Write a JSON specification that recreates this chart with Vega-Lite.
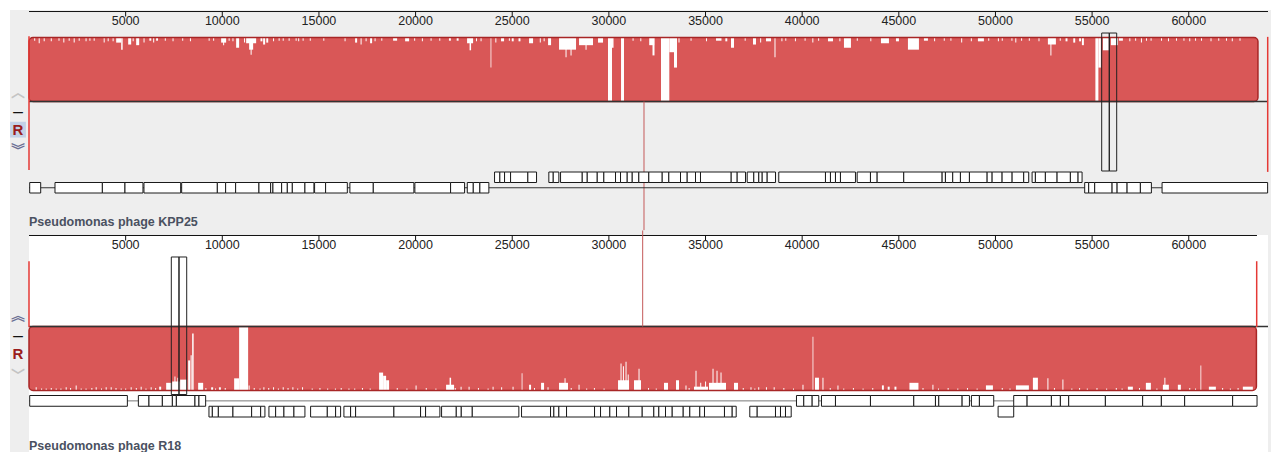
{
"$schema":"https://vega.github.io/schema/vega-lite/v6.json",
"padding":0,
"background":"#eeeeee",
"spacing":5,
"bounds":"flush",
"config":{"view":{"stroke":null}},
"datasets":{
"ticks":[{"bp":5000},{"bp":10000},{"bp":15000},{"bp":20000},{"bp":25000},{"bp":30000},{"bp":35000},{"bp":40000},{"bp":45000},{"bp":50000},{"bp":55000},{"bp":60000}],
"genes1":[
{"start":36,"end":605,"strand":"-"},{"start":1345,"end":3796,"strand":"-"},{"start":3796,"end":4965,"strand":"-"},{"start":4965,"end":5896,"strand":"-"},{"start":5948,"end":7846,"strand":"-"},{"start":7898,"end":9744,"strand":"-"},{"start":9744,"end":10173,"strand":"-"},{"start":10173,"end":10690,"strand":"-"},{"start":10690,"end":11896,"strand":"-"},{"start":11896,"end":12501,"strand":"-"},{"start":12501,"end":12620,"strand":"-"},{"start":12620,"end":13070,"strand":"-"},{"start":13070,"end":13364,"strand":"-"},{"start":13364,"end":13623,"strand":"-"},{"start":13623,"end":14275,"strand":"-"},{"start":14275,"end":14740,"strand":"-"},{"start":14776,"end":15345,"strand":"-"},{"start":15345,"end":16468,"strand":"-"},{"start":16602,"end":17812,"strand":"-"},{"start":17812,"end":19912,"strand":"-"},{"start":19964,"end":21811,"strand":"-"},{"start":21811,"end":22535,"strand":"-"},{"start":22674,"end":22985,"strand":"-"},{"start":22985,"end":23326,"strand":"-"},{"start":23326,"end":23791,"strand":"-"},{"start":54617,"end":54824,"strand":"-"},{"start":54824,"end":55134,"strand":"-"},{"start":55134,"end":56034,"strand":"-"},{"start":56034,"end":56293,"strand":"-"},{"start":56293,"end":56810,"strand":"-"},{"start":56810,"end":57498,"strand":"-"},{"start":57498,"end":58067,"strand":"-"},{"start":58620,"end":64080,"strand":"-"},
{"start":24086,"end":24360,"strand":"+"},{"start":24360,"end":24603,"strand":"+"},{"start":24603,"end":24914,"strand":"+"},{"start":24914,"end":25808,"strand":"+"},{"start":25808,"end":26258,"strand":"+"},{"start":26894,"end":27122,"strand":"+"},{"start":27122,"end":27412,"strand":"+"},{"start":27500,"end":28622,"strand":"+"},{"start":28622,"end":28881,"strand":"+"},{"start":28881,"end":29398,"strand":"+"},{"start":29398,"end":29739,"strand":"+"},{"start":29739,"end":30344,"strand":"+"},{"start":30344,"end":30603,"strand":"+"},{"start":30603,"end":30949,"strand":"+"},{"start":30949,"end":31208,"strand":"+"},{"start":31208,"end":31549,"strand":"+"},{"start":31549,"end":32066,"strand":"+"},{"start":32066,"end":32759,"strand":"+"},{"start":32759,"end":33101,"strand":"+"},{"start":33101,"end":33706,"strand":"+"},{"start":33706,"end":34052,"strand":"+"},{"start":34052,"end":34482,"strand":"+"},{"start":34482,"end":34740,"strand":"+"},{"start":34740,"end":36328,"strand":"+"},{"start":36328,"end":36638,"strand":"+"},{"start":36638,"end":37068,"strand":"+"},{"start":37156,"end":37497,"strand":"+"},{"start":37497,"end":37756,"strand":"+"},{"start":37756,"end":37932,"strand":"+"},{"start":37932,"end":38190,"strand":"+"},{"start":38190,"end":38620,"strand":"+"},{"start":38790,"end":41206,"strand":"+"},{"start":41206,"end":41464,"strand":"+"},{"start":41464,"end":41723,"strand":"+"},{"start":41723,"end":41981,"strand":"+"},{"start":41981,"end":42757,"strand":"+"},{"start":42845,"end":43533,"strand":"+"},{"start":43533,"end":43879,"strand":"+"},{"start":43879,"end":45255,"strand":"+"},{"start":45255,"end":47241,"strand":"+"},{"start":47241,"end":47412,"strand":"+"},{"start":47412,"end":47789,"strand":"+"},{"start":47789,"end":48188,"strand":"+"},{"start":48188,"end":48653,"strand":"+"},{"start":48653,"end":49569,"strand":"+"},{"start":49569,"end":49827,"strand":"+"},{"start":49827,"end":50344,"strand":"+"},{"start":50344,"end":50862,"strand":"+"},{"start":50862,"end":51462,"strand":"+"},{"start":51462,"end":51720,"strand":"+"},{"start":51896,"end":52066,"strand":"+"},{"start":52066,"end":52583,"strand":"+"},{"start":52583,"end":53188,"strand":"+"},{"start":53188,"end":53876,"strand":"+"},{"start":53876,"end":54274,"strand":"+"},{"start":54274,"end":54481,"strand":"+"}
],
"genes2":[
{"start":36,"end":5089,"strand":"+"},{"start":5658,"end":6206,"strand":"+"},{"start":6206,"end":6899,"strand":"+"},{"start":6899,"end":7417,"strand":"+"},{"start":7417,"end":7624,"strand":"+"},{"start":7624,"end":8586,"strand":"+"},{"start":8586,"end":8792,"strand":"+"},{"start":8792,"end":9139,"strand":"+"},{"start":39706,"end":40083,"strand":"+"},{"start":40083,"end":40517,"strand":"+"},{"start":40517,"end":40859,"strand":"+"},{"start":40999,"end":41723,"strand":"+"},{"start":41723,"end":43533,"strand":"+"},{"start":43533,"end":45774,"strand":"+"},{"start":45774,"end":46896,"strand":"+"},{"start":46896,"end":47067,"strand":"+"},{"start":47067,"end":48275,"strand":"+"},{"start":48275,"end":48653,"strand":"+"},{"start":48756,"end":49170,"strand":"+"},{"start":49170,"end":49910,"strand":"+"},{"start":50944,"end":51637,"strand":"+"},{"start":51637,"end":52894,"strand":"+"},{"start":52894,"end":53359,"strand":"+"},{"start":53359,"end":53789,"strand":"+"},{"start":53789,"end":55687,"strand":"+"},{"start":55687,"end":57616,"strand":"+"},{"start":57616,"end":58583,"strand":"+"},{"start":58583,"end":59788,"strand":"+"},{"start":59788,"end":62271,"strand":"+"},{"start":62271,"end":63533,"strand":"+"},
{"start":9310,"end":9485,"strand":"-"},{"start":9485,"end":9796,"strand":"-"},{"start":9796,"end":10551,"strand":"-"},{"start":10551,"end":11518,"strand":"-"},{"start":11518,"end":11984,"strand":"-"},{"start":11984,"end":12206,"strand":"-"},{"start":12413,"end":12760,"strand":"-"},{"start":12760,"end":13189,"strand":"-"},{"start":13189,"end":13706,"strand":"-"},{"start":13706,"end":14275,"strand":"-"},{"start":14569,"end":15433,"strand":"-"},{"start":15433,"end":15862,"strand":"-"},{"start":15862,"end":16121,"strand":"-"},{"start":16292,"end":16638,"strand":"-"},{"start":16638,"end":16897,"strand":"-"},{"start":16897,"end":18878,"strand":"-"},{"start":18878,"end":20258,"strand":"-"},{"start":20258,"end":20517,"strand":"-"},{"start":20517,"end":21257,"strand":"-"},{"start":21345,"end":22105,"strand":"-"},{"start":22105,"end":22364,"strand":"-"},{"start":22364,"end":22933,"strand":"-"},{"start":22933,"end":25343,"strand":"-"},{"start":25482,"end":26982,"strand":"-"},{"start":26982,"end":27153,"strand":"-"},{"start":27153,"end":27412,"strand":"-"},{"start":27412,"end":27810,"strand":"-"},{"start":27810,"end":29258,"strand":"-"},{"start":29258,"end":29569,"strand":"-"},{"start":29569,"end":30049,"strand":"-"},{"start":30049,"end":30396,"strand":"-"},{"start":30396,"end":31032,"strand":"-"},{"start":31032,"end":31725,"strand":"-"},{"start":31725,"end":32325,"strand":"-"},{"start":32325,"end":32584,"strand":"-"},{"start":32584,"end":32930,"strand":"-"},{"start":32930,"end":33277,"strand":"-"},{"start":33277,"end":33846,"strand":"-"},{"start":33846,"end":34187,"strand":"-"},{"start":34187,"end":34704,"strand":"-"},{"start":34704,"end":34947,"strand":"-"},{"start":34947,"end":35981,"strand":"-"},{"start":35981,"end":36380,"strand":"-"},{"start":36380,"end":36587,"strand":"-"},{"start":37290,"end":37673,"strand":"-"},{"start":37673,"end":38620,"strand":"-"},{"start":38620,"end":38879,"strand":"-"},{"start":38879,"end":39137,"strand":"-"},{"start":39137,"end":39432,"strand":"-"},{"start":50137,"end":50944,"strand":"-"}
],
"spikes1":[
{"start":243,"end":295,"div":5},{"start":476,"end":528,"div":9},{"start":734,"end":786,"div":6},{"start":1100,"end":1152,"div":6},{"start":1500,"end":1552,"div":5},{"start":1750,"end":1802,"div":8},{"start":2027,"end":2079,"div":5},{"start":2286,"end":2338,"div":8},{"start":2545,"end":2597,"div":5},{"start":2900,"end":2952,"div":6},{"start":3100,"end":3152,"div":5},{"start":3320,"end":3372,"div":5},{"start":3838,"end":3889,"div":8},{"start":4045,"end":4096,"div":6},{"start":4300,"end":4352,"div":6},{"start":4484,"end":4743,"div":8},{"start":4743,"end":4820,"div":19},{"start":5105,"end":5260,"div":11},{"start":5337,"end":5389,"div":6},{"start":5518,"end":5674,"div":12},{"start":5900,"end":5952,"div":8},{"start":6200,"end":6300,"div":5},{"start":6398,"end":6450,"div":8},{"start":6550,"end":6650,"div":5},{"start":7000,"end":7052,"div":5},{"start":7400,"end":7452,"div":6},{"start":7900,"end":7952,"div":5},{"start":8300,"end":8352,"div":6},{"start":9268,"end":9320,"div":5},{"start":9500,"end":9552,"div":5},{"start":9915,"end":10173,"div":8},{"start":10018,"end":10070,"div":12},{"start":10302,"end":10354,"div":5},{"start":10500,"end":10552,"div":6},{"start":10690,"end":10845,"div":16},{"start":11100,"end":11152,"div":8},{"start":11208,"end":11725,"div":9},{"start":11363,"end":11570,"div":19},{"start":11440,"end":11492,"div":27},{"start":11950,"end":12050,"div":6},{"start":12087,"end":12191,"div":11},{"start":12250,"end":12350,"div":8},{"start":12600,"end":12652,"div":6},{"start":12889,"end":12941,"div":5},{"start":13100,"end":13152,"div":5},{"start":13406,"end":13458,"div":5},{"start":13768,"end":13820,"div":5},{"start":13900,"end":13952,"div":6},{"start":14130,"end":14182,"div":5},{"start":14500,"end":14552,"div":5},{"start":15200,"end":15252,"div":5},{"start":16300,"end":16352,"div":6},{"start":16845,"end":16949,"div":8},{"start":17129,"end":17181,"div":11},{"start":17388,"end":17440,"div":6},{"start":17621,"end":17724,"div":9},{"start":17853,"end":17905,"div":6},{"start":18200,"end":18252,"div":5},{"start":18811,"end":19018,"div":5},{"start":19432,"end":19639,"div":6},{"start":19900,"end":19952,"div":5},{"start":20300,"end":20352,"div":6},{"start":20750,"end":20802,"div":5},{"start":21200,"end":21252,"div":5},{"start":21700,"end":21800,"div":5},{"start":22100,"end":22200,"div":5},{"start":22638,"end":22949,"div":9},{"start":22767,"end":22845,"div":20},{"start":23100,"end":23152,"div":6},{"start":23336,"end":23388,"div":6},{"start":23853,"end":23894,"div":47},{"start":24100,"end":24152,"div":8},{"start":24396,"end":24551,"div":6},{"start":24800,"end":24852,"div":5},{"start":24950,"end":25050,"div":6},{"start":25300,"end":25400,"div":6},{"start":25845,"end":26052,"div":9},{"start":26400,"end":26452,"div":8},{"start":26600,"end":26652,"div":6},{"start":26828,"end":26983,"div":12},{"start":27396,"end":28275,"div":19},{"start":27732,"end":27784,"div":31},{"start":27991,"end":28043,"div":28},{"start":28430,"end":29154,"div":12},{"start":28767,"end":28819,"div":19},{"start":29000,"end":29052,"div":6},{"start":29413,"end":29672,"div":8},{"start":29930,"end":30137,"div":100},{"start":30137,"end":30215,"div":16},{"start":30603,"end":30758,"div":100},{"start":31200,"end":31252,"div":5},{"start":31600,"end":31652,"div":6},{"start":32061,"end":32320,"div":12},{"start":32231,"end":32335,"div":28},{"start":32672,"end":33101,"div":100},{"start":33101,"end":33344,"div":23},{"start":33344,"end":33499,"div":47},{"start":33576,"end":33628,"div":8},{"start":34200,"end":34252,"div":5},{"start":35000,"end":35052,"div":6},{"start":35517,"end":35800,"div":5},{"start":36000,"end":36100,"div":6},{"start":36293,"end":36448,"div":16},{"start":37000,"end":37052,"div":5},{"start":37430,"end":37585,"div":11},{"start":37800,"end":37852,"div":8},{"start":38103,"end":38362,"div":6},{"start":38542,"end":38594,"div":31},{"start":38900,"end":38952,"div":6},{"start":39100,"end":39152,"div":5},{"start":39600,"end":39652,"div":6},{"start":40100,"end":40152,"div":5},{"start":40500,"end":40552,"div":8},{"start":40800,"end":40852,"div":5},{"start":41309,"end":41568,"div":6},{"start":41900,"end":41952,"div":6},{"start":42136,"end":42498,"div":16},{"start":42800,"end":42852,"div":5},{"start":43500,"end":43552,"div":6},{"start":44050,"end":44464,"div":9},{"start":44826,"end":44981,"div":6},{"start":45446,"end":46015,"div":19},{"start":46274,"end":46481,"div":5},{"start":46800,"end":46852,"div":6},{"start":47300,"end":47352,"div":5},{"start":47644,"end":47696,"div":5},{"start":48200,"end":48252,"div":8},{"start":48700,"end":48752,"div":6},{"start":49067,"end":49377,"div":6},{"start":49600,"end":49652,"div":5},{"start":50100,"end":50152,"div":6},{"start":50300,"end":50352,"div":5},{"start":50800,"end":50852,"div":5},{"start":51000,"end":51052,"div":8},{"start":51300,"end":51352,"div":5},{"start":51700,"end":51752,"div":5},{"start":52200,"end":52252,"div":6},{"start":52687,"end":53101,"div":11},{"start":52817,"end":52868,"div":28},{"start":53300,"end":53352,"div":5},{"start":53600,"end":53700,"div":6},{"start":54000,"end":54100,"div":8},{"start":54300,"end":54400,"div":6},{"start":54446,"end":54549,"div":12},{"start":55144,"end":55299,"div":100},{"start":55299,"end":55428,"div":47},{"start":55532,"end":55842,"div":20},{"start":55946,"end":56308,"div":12},{"start":56360,"end":56567,"div":5},{"start":56900,"end":56952,"div":6},{"start":57200,"end":57252,"div":5},{"start":57500,"end":57552,"div":8},{"start":57762,"end":57814,"div":5},{"start":58000,"end":58052,"div":5},{"start":58538,"end":58590,"div":5},{"start":58900,"end":58952,"div":6},{"start":59314,"end":59366,"div":5},{"start":59700,"end":59752,"div":5},{"start":60000,"end":60052,"div":6},{"start":60300,"end":60352,"div":5},{"start":60607,"end":60659,"div":5},{"start":61100,"end":61152,"div":6},{"start":61500,"end":61552,"div":5},{"start":61900,"end":61952,"div":5},{"start":62200,"end":62252,"div":6},{"start":62600,"end":62652,"div":5}
],
"spikes2":[
{"start":320,"end":372,"div":5},{"start":600,"end":652,"div":3},{"start":838,"end":890,"div":3},{"start":1100,"end":1152,"div":4},{"start":1355,"end":1407,"div":3},{"start":1600,"end":1652,"div":3},{"start":1872,"end":1924,"div":5},{"start":2100,"end":2152,"div":4},{"start":2389,"end":2441,"div":8},{"start":2648,"end":2700,"div":3},{"start":2900,"end":2952,"div":3},{"start":3200,"end":3252,"div":4},{"start":3424,"end":3476,"div":5},{"start":3700,"end":3752,"div":3},{"start":3941,"end":3993,"div":5},{"start":4200,"end":4252,"div":5},{"start":4450,"end":4502,"div":4},{"start":4717,"end":4769,"div":3},{"start":4950,"end":5002,"div":3},{"start":5234,"end":5286,"div":5},{"start":5500,"end":5552,"div":4},{"start":5751,"end":5803,"div":6},{"start":6000,"end":6052,"div":3},{"start":6268,"end":6320,"div":5},{"start":6500,"end":6552,"div":4},{"start":6708,"end":6811,"div":6},{"start":7070,"end":7381,"div":12},{"start":7381,"end":7794,"div":14},{"start":7500,"end":7550,"div":22},{"start":7650,"end":7700,"div":20},{"start":7794,"end":8156,"div":17},{"start":8208,"end":8311,"div":47},{"start":8337,"end":8389,"div":55},{"start":8415,"end":8492,"div":89},{"start":8725,"end":8984,"div":12},{"start":9100,"end":9152,"div":4},{"start":9398,"end":9500,"div":5},{"start":9600,"end":9652,"div":3},{"start":9800,"end":9900,"div":5},{"start":10100,"end":10152,"div":4},{"start":10587,"end":10845,"div":19},{"start":10845,"end":11311,"div":100},{"start":11337,"end":11389,"div":8},{"start":11600,"end":11652,"div":4},{"start":11900,"end":11952,"div":3},{"start":12100,"end":12152,"div":5},{"start":12350,"end":12402,"div":4},{"start":12600,"end":12652,"div":5},{"start":12850,"end":12902,"div":3},{"start":13100,"end":13152,"div":5},{"start":13350,"end":13402,"div":4},{"start":13600,"end":13652,"div":5},{"start":13850,"end":13902,"div":3},{"start":14100,"end":14152,"div":5},{"start":14600,"end":14652,"div":3},{"start":15000,"end":15052,"div":4},{"start":15400,"end":15452,"div":3},{"start":15800,"end":15852,"div":3},{"start":16100,"end":16152,"div":4},{"start":16500,"end":16552,"div":3},{"start":16800,"end":16852,"div":3},{"start":17200,"end":17252,"div":4},{"start":17600,"end":17652,"div":3},{"start":18087,"end":18294,"div":28},{"start":18294,"end":18449,"div":23},{"start":18449,"end":18604,"div":16},{"start":19000,"end":19052,"div":4},{"start":19500,"end":19552,"div":3},{"start":19974,"end":20026,"div":8},{"start":20500,"end":20552,"div":4},{"start":21000,"end":21052,"div":3},{"start":21552,"end":21966,"div":9},{"start":21733,"end":21811,"div":20},{"start":22000,"end":22052,"div":4},{"start":22302,"end":22354,"div":6},{"start":22716,"end":22768,"div":6},{"start":23200,"end":23252,"div":4},{"start":23700,"end":23752,"div":3},{"start":23958,"end":24009,"div":6},{"start":24400,"end":24452,"div":5},{"start":24991,"end":25043,"div":6},{"start":25462,"end":25503,"div":27},{"start":25845,"end":25948,"div":9},{"start":26100,"end":26152,"div":4},{"start":26466,"end":26621,"div":12},{"start":26800,"end":26852,"div":5},{"start":27396,"end":27861,"div":12},{"start":27681,"end":27732,"div":19},{"start":28000,"end":28052,"div":4},{"start":28405,"end":28457,"div":9},{"start":28800,"end":28852,"div":3},{"start":29200,"end":29252,"div":4},{"start":29700,"end":29752,"div":3},{"start":30448,"end":31017,"div":16},{"start":30577,"end":30629,"div":42},{"start":30700,"end":30752,"div":38},{"start":30836,"end":30888,"div":45},{"start":30950,"end":31000,"div":25},{"start":31275,"end":31637,"div":16},{"start":31508,"end":31560,"div":34},{"start":32000,"end":32052,"div":4},{"start":32400,"end":32452,"div":3},{"start":32827,"end":33034,"div":12},{"start":33447,"end":33602,"div":16},{"start":33938,"end":33990,"div":8},{"start":34100,"end":34152,"div":4},{"start":34378,"end":35102,"div":6},{"start":34456,"end":34508,"div":31},{"start":34700,"end":34752,"div":12},{"start":34950,"end":35002,"div":14},{"start":35154,"end":36034,"div":12},{"start":35336,"end":35388,"div":34},{"start":35543,"end":35595,"div":31},{"start":35750,"end":35802,"div":28},{"start":36448,"end":36655,"div":12},{"start":36900,"end":36952,"div":4},{"start":37300,"end":37352,"div":5},{"start":37500,"end":37552,"div":3},{"start":37700,"end":37752,"div":5},{"start":38100,"end":38152,"div":5},{"start":38500,"end":38552,"div":5},{"start":39000,"end":39052,"div":4},{"start":39500,"end":39552,"div":3},{"start":39990,"end":40042,"div":9},{"start":40512,"end":40553,"div":84},{"start":40637,"end":40843,"div":20},{"start":41024,"end":41076,"div":20},{"start":41400,"end":41452,"div":4},{"start":41800,"end":41852,"div":8},{"start":42100,"end":42152,"div":3},{"start":42600,"end":42652,"div":4},{"start":43100,"end":43152,"div":3},{"start":43600,"end":43652,"div":4},{"start":44100,"end":44200,"div":8},{"start":44400,"end":44500,"div":6},{"start":44750,"end":44850,"div":6},{"start":45524,"end":45990,"div":12},{"start":46200,"end":46252,"div":4},{"start":46713,"end":46765,"div":9},{"start":47000,"end":47052,"div":3},{"start":47500,"end":47552,"div":4},{"start":48000,"end":48052,"div":3},{"start":48500,"end":48552,"div":4},{"start":49000,"end":49052,"div":3},{"start":49481,"end":49843,"div":8},{"start":50300,"end":50352,"div":4},{"start":50700,"end":50752,"div":3},{"start":51032,"end":51704,"div":8},{"start":51911,"end":52170,"div":20},{"start":52662,"end":52713,"div":19},{"start":53000,"end":53052,"div":4},{"start":53438,"end":53489,"div":17},{"start":53900,"end":53952,"div":3},{"start":54300,"end":54352,"div":4},{"start":54700,"end":54752,"div":3},{"start":55200,"end":55252,"div":4},{"start":55700,"end":55752,"div":3},{"start":56200,"end":56252,"div":4},{"start":56500,"end":56552,"div":3},{"start":56825,"end":57083,"div":6},{"start":57400,"end":57452,"div":4},{"start":57756,"end":58015,"div":12},{"start":58300,"end":58352,"div":3},{"start":58636,"end":58946,"div":9},{"start":58713,"end":58765,"div":20},{"start":59411,"end":59566,"div":9},{"start":60000,"end":60052,"div":4},{"start":60300,"end":60352,"div":3},{"start":60580,"end":60622,"div":39},{"start":61015,"end":61377,"div":6},{"start":61700,"end":61752,"div":4},{"start":62100,"end":62152,"div":3},{"start":62500,"end":62552,"div":4},{"start":62773,"end":63290,"div":6}
]
},
"vconcat":[
{
"width":1239,"height":219,
"view":{"fill":"#eeeeee","stroke":null},
"resolve":{"scale":{"y":"independent"}},
"layer":[
{"data":{"values":[{"part":"titlebar"}]},"mark":{"type":"rect","fill":"white"},
 "encoding":{"x":{"datum":-1500,"type":"quantitative","scale":{"domain":[0,64100],"nice":false,"zero":false,"padding":0},"axis":null},"x2":{"datum":64255},
 "y":{"datum":0,"type":"quantitative","scale":{"domain":[0,1],"range":[-11,-1],"padding":0},"axis":null},"y2":{"datum":1}}},
{"data":{"values":[{"part":"margin"}]},"mark":{"type":"rect","fill":"white"},
 "encoding":{"x":{"datum":-1500,"type":"quantitative","scale":{"domain":[0,64100],"nice":false,"zero":false,"padding":0},"axis":null},"x2":{"datum":-985},
 "y":{"datum":0,"type":"quantitative","scale":{"domain":[0,1],"range":[-11,441],"padding":0},"axis":null},"y2":{"datum":1}}},
{"layer":[
 {"data":{"values":[{"slot":"ref"}]},"mark":{"type":"square","size":250,"color":"#c3d1e6","opacity":1},
  "encoding":{"x":{"datum":-569,"type":"quantitative","scale":{"domain":[0,64100],"nice":false,"zero":false,"padding":0},"axis":null},"y":{"field":"slot","type":"nominal","scale":{"type":"point","domain":["up","minus","ref","down"],"range":[86,135],"padding":0},"axis":null}}},
 {"data":{"values":[{"slot":"up","glyph":"︿"}]},"mark":{"type":"text","color":"#c4c4c4","font":"Noto Sans CJK SC","fontSize":14,"fontWeight":"bold","baseline":"middle","dy":-4},
  "encoding":{"x":{"datum":-569,"type":"quantitative","scale":{"domain":[0,64100],"nice":false,"zero":false,"padding":0},"axis":null},"y":{"field":"slot","type":"nominal","axis":null},"text":{"field":"glyph","type":"nominal"}}},
 {"data":{"values":[{"slot":"minus","glyph":"—"}]},"mark":{"type":"text","color":"#111111","font":"DejaVu Sans","fontSize":11,"fontWeight":"bold","baseline":"middle"},
  "encoding":{"x":{"datum":-569,"type":"quantitative","scale":{"domain":[0,64100],"nice":false,"zero":false,"padding":0},"axis":null},"y":{"field":"slot","type":"nominal","axis":null},"text":{"field":"glyph","type":"nominal"}}},
 {"data":{"values":[{"slot":"ref","glyph":"R"}]},"mark":{"type":"text","color":"#9a1c1c","font":"Liberation Sans","fontSize":15,"fontWeight":"bold","baseline":"middle"},
  "encoding":{"x":{"datum":-569,"type":"quantitative","scale":{"domain":[0,64100],"nice":false,"zero":false,"padding":0},"axis":null},"y":{"field":"slot","type":"nominal","axis":null},"text":{"field":"glyph","type":"nominal"}}},
 {"data":{"values":[{"slot":"down","glyph":"︾"}]},"mark":{"type":"text","color":"#6b6f94","font":"Noto Sans CJK SC","fontSize":14,"fontWeight":"bold","baseline":"middle","dy":5},
  "encoding":{"x":{"datum":-569,"type":"quantitative","scale":{"domain":[0,64100],"nice":false,"zero":false,"padding":0},"axis":null},"y":{"field":"slot","type":"nominal","axis":null},"text":{"field":"glyph","type":"nominal"}}}
]},
{"layer":[
 {"data":{"values":[{"genome":"KPP25","start":0,"end":63580}]},"mark":{"type":"rect","fill":"#d95757","cornerRadius":4},
  "encoding":{"x":{"field":"start","type":"quantitative","scale":{"domain":[0,64100],"nice":false,"zero":false,"padding":0},"axis":null},
   "x2":{"field":"end"},
   "y":{"datum":0,"type":"quantitative","scale":{"domain":[0,100],"range":[26.5,90.5],"padding":0,"zero":false,"nice":false},"axis":null},"y2":{"datum":100}}},
 {"data":{"name":"spikes1"},"mark":{"type":"bar","fill":"white","binSpacing":0},
  "encoding":{"x":{"field":"start","bin":"binned","type":"quantitative","scale":{"domain":[0,64100],"nice":false,"zero":false,"padding":0},"axis":null},"x2":{"field":"end"},
   "y":{"field":"div","type":"quantitative","stack":null,"axis":null}}},
 {"data":{"values":[{"genome":"KPP25","start":0,"end":63580}]},"mark":{"type":"rect","filled":false,"color":"#a82626","strokeWidth":1.5,"cornerRadius":4},
  "encoding":{"x":{"field":"start","type":"quantitative","scale":{"domain":[0,64100],"nice":false,"zero":false,"padding":0},"axis":null},"x2":{"field":"end"},
   "y":{"datum":0,"type":"quantitative","axis":null},"y2":{"datum":100}}},
 {"data":{"values":[{"start":0,"end":64100}]},"mark":{"type":"rule","color":"#333333","strokeWidth":1.5},
  "encoding":{"x":{"field":"start","type":"quantitative","scale":{"domain":[0,64100],"nice":false,"zero":false,"padding":0},"axis":null},"x2":{"field":"end"},
   "y":{"datum":100,"type":"quantitative","axis":null}}},
 {"data":{"values":[{"start":0,"end":64100}]},"mark":{"type":"rule","color":"#111111","strokeWidth":1},
  "encoding":{"x":{"field":"start","type":"quantitative","scale":{"domain":[0,64100],"nice":false,"zero":false,"padding":0},"axis":null},"x2":{"field":"end"},
   "y":{"datum":-40.6,"type":"quantitative","axis":null}}},
 {"data":{"name":"ticks"},"mark":{"type":"rule","color":"#111111","strokeWidth":1},
  "encoding":{"x":{"field":"bp","type":"quantitative","scale":{"domain":[0,64100],"nice":false,"zero":false,"padding":0},"axis":null},
   "y":{"datum":-40.6,"type":"quantitative","axis":null},"y2":{"datum":-32.8}}},
 {"data":{"name":"ticks"},"mark":{"type":"text","baseline":"middle","align":"center","font":"Liberation Sans","fontSize":12.5,"color":"#222222"},
  "encoding":{"x":{"field":"bp","type":"quantitative","scale":{"domain":[0,64100],"nice":false,"zero":false,"padding":0},"axis":null},
   "y":{"datum":-26,"type":"quantitative","axis":null},"text":{"field":"bp","type":"quantitative","format":"d"}}},
 {"data":{"values":[{"pos":0}]},"mark":{"type":"rule","color":"#e53935","strokeWidth":1.5},
  "encoding":{"x":{"field":"pos","type":"quantitative","scale":{"domain":[0,64100],"nice":false,"zero":false,"padding":0},"axis":null},
   "y":{"datum":-2,"type":"quantitative","axis":null},"y2":{"datum":207}}},
 {"data":{"values":[{"pos":64085}]},"mark":{"type":"rule","color":"#e53935","strokeWidth":1.5},
  "encoding":{"x":{"field":"pos","type":"quantitative","scale":{"domain":[0,64100],"nice":false,"zero":false,"padding":0},"axis":null},
   "y":{"datum":-1,"type":"quantitative","axis":null},"y2":{"datum":210}}},
 {"data":{"values":[{"pos":31817}]},"mark":{"type":"rule","color":"#c45a5a","strokeWidth":1},
  "encoding":{"x":{"field":"pos","type":"quantitative","scale":{"domain":[0,64100],"nice":false,"zero":false,"padding":0},"axis":null},
   "y":{"datum":100,"type":"quantitative","axis":null},"y2":{"datum":301}}},
 {"data":{"values":[{"start":55496,"end":55889},{"start":55889,"end":56272}]},"mark":{"type":"rect","filled":false,"color":"#222222","strokeWidth":1},
  "encoding":{"x":{"field":"start","type":"quantitative","scale":{"domain":[0,64100],"nice":false,"zero":false,"padding":0},"axis":null},"x2":{"field":"end"},
   "y":{"datum":-7,"type":"quantitative","axis":null},"y2":{"datum":208.6}}},
 {"data":{"values":[{"name":"Pseudomonas phage KPP25"}]},"mark":{"type":"text","align":"left","baseline":"middle","font":"Liberation Sans","fontSize":12.5,"fontWeight":"bold","color":"#4a5161"},
  "encoding":{"x":{"datum":0,"type":"quantitative","scale":{"domain":[0,64100],"nice":false,"zero":false,"padding":0},"axis":null},
   "y":{"datum":288,"type":"quantitative","axis":null},"text":{"field":"name","type":"nominal"}}}
]},
{"layer":[
 {"data":{"values":[{"start":0,"end":64100,"strand":"-"}]},"mark":{"type":"rule","color":"#333333","strokeWidth":1},
  "encoding":{"x":{"field":"start","type":"quantitative","scale":{"domain":[0,64100],"nice":false,"zero":false,"padding":0},"axis":null},"x2":{"field":"end"},
   "y":{"field":"strand","type":"nominal","scale":{"type":"band","domain":["+","-"],"range":[161,182],"paddingInner":0,"paddingOuter":0},"axis":null}}},
 {"data":{"name":"genes1"},"mark":{"type":"rect","fill":"white","stroke":"#1a1a1a","strokeWidth":1},
  "encoding":{"x":{"field":"start","type":"quantitative","scale":{"domain":[0,64100],"nice":false,"zero":false,"padding":0},"axis":null},"x2":{"field":"end"},
   "y":{"field":"strand","type":"nominal","scale":{"type":"band","domain":["+","-"],"range":[161,182],"paddingInner":0,"paddingOuter":0},"axis":null}}}
]}
]
},
{
"width":1239,"height":217,
"view":{"fill":"white","stroke":null},
"resolve":{"scale":{"y":"independent"}},
"layer":[
{"layer":[
 {"data":{"values":[{"slot":"up","glyph":"︽"}]},"mark":{"type":"text","color":"#6b6f94","font":"Noto Sans CJK SC","fontSize":14,"fontWeight":"bold","baseline":"middle","dy":-4},
  "encoding":{"x":{"datum":-569,"type":"quantitative","scale":{"domain":[0,64100],"nice":false,"zero":false,"padding":0},"axis":null},"y":{"field":"slot","type":"nominal","scale":{"type":"point","domain":["up","minus","ref","down"],"range":[84.7,135.7],"padding":0},"axis":null},"text":{"field":"glyph","type":"nominal"}}},
 {"data":{"values":[{"slot":"minus","glyph":"—"}]},"mark":{"type":"text","color":"#111111","font":"DejaVu Sans","fontSize":11,"fontWeight":"bold","baseline":"middle"},
  "encoding":{"x":{"datum":-569,"type":"quantitative","scale":{"domain":[0,64100],"nice":false,"zero":false,"padding":0},"axis":null},"y":{"field":"slot","type":"nominal","axis":null},"text":{"field":"glyph","type":"nominal"}}},
 {"data":{"values":[{"slot":"ref","glyph":"R"}]},"mark":{"type":"text","color":"#9a1c1c","font":"Liberation Sans","fontSize":15,"fontWeight":"bold","baseline":"middle"},
  "encoding":{"x":{"datum":-569,"type":"quantitative","scale":{"domain":[0,64100],"nice":false,"zero":false,"padding":0},"axis":null},"y":{"field":"slot","type":"nominal","axis":null},"text":{"field":"glyph","type":"nominal"}}},
 {"data":{"values":[{"slot":"down","glyph":"﹀"}]},"mark":{"type":"text","color":"#c4c4c4","font":"Noto Sans CJK SC","fontSize":14,"fontWeight":"bold","baseline":"middle","dy":5},
  "encoding":{"x":{"datum":-569,"type":"quantitative","scale":{"domain":[0,64100],"nice":false,"zero":false,"padding":0},"axis":null},"y":{"field":"slot","type":"nominal","axis":null},"text":{"field":"glyph","type":"nominal"}}}
]},
{"layer":[
 {"data":{"values":[{"genome":"R18","start":0,"end":63500}]},"mark":{"type":"rect","fill":"#d95757","cornerRadius":4},
  "encoding":{"x":{"field":"start","type":"quantitative","scale":{"domain":[0,64100],"nice":false,"zero":false,"padding":0},"axis":null},
   "x2":{"field":"end"},
   "y":{"datum":0,"type":"quantitative","scale":{"domain":[0,100],"range":[155.5,91.5],"padding":0,"zero":false,"nice":false},"axis":null},"y2":{"datum":100}}},
 {"data":{"name":"spikes2"},"mark":{"type":"bar","fill":"white","binSpacing":0},
  "encoding":{"x":{"field":"start","bin":"binned","type":"quantitative","scale":{"domain":[0,64100],"nice":false,"zero":false,"padding":0},"axis":null},"x2":{"field":"end"},
   "y":{"field":"div","type":"quantitative","stack":null,"axis":null}}},
 {"data":{"values":[{"genome":"R18","start":0,"end":63500}]},"mark":{"type":"rect","filled":false,"color":"#a82626","strokeWidth":1.5,"cornerRadius":4},
  "encoding":{"x":{"field":"start","type":"quantitative","scale":{"domain":[0,64100],"nice":false,"zero":false,"padding":0},"axis":null},"x2":{"field":"end"},
   "y":{"datum":0,"type":"quantitative","axis":null},"y2":{"datum":100}}},
 {"data":{"values":[{"start":0,"end":64100}]},"mark":{"type":"rule","color":"#333333","strokeWidth":1.5},
  "encoding":{"x":{"field":"start","type":"quantitative","scale":{"domain":[0,64100],"nice":false,"zero":false,"padding":0},"axis":null},"x2":{"field":"end"},
   "y":{"datum":100,"type":"quantitative","axis":null}}},
 {"data":{"values":[{"start":0,"end":63530}]},"mark":{"type":"rule","color":"#111111","strokeWidth":1},
  "encoding":{"x":{"field":"start","type":"quantitative","scale":{"domain":[0,64100],"nice":false,"zero":false,"padding":0},"axis":null},"x2":{"field":"end"},
   "y":{"datum":242.2,"type":"quantitative","axis":null}}},
 {"data":{"name":"ticks"},"mark":{"type":"rule","color":"#111111","strokeWidth":1},
  "encoding":{"x":{"field":"bp","type":"quantitative","scale":{"domain":[0,64100],"nice":false,"zero":false,"padding":0},"axis":null},
   "y":{"datum":242.2,"type":"quantitative","axis":null},"y2":{"datum":234.4}}},
 {"data":{"name":"ticks"},"mark":{"type":"text","baseline":"middle","align":"center","font":"Liberation Sans","fontSize":12.5,"color":"#222222"},
  "encoding":{"x":{"field":"bp","type":"quantitative","scale":{"domain":[0,64100],"nice":false,"zero":false,"padding":0},"axis":null},
   "y":{"datum":227.5,"type":"quantitative","axis":null},"text":{"field":"bp","type":"quantitative","format":"d"}}},
 {"data":{"values":[{"pos":0},{"pos":63515}]},"mark":{"type":"rule","color":"#e53935","strokeWidth":1.5},
  "encoding":{"x":{"field":"pos","type":"quantitative","scale":{"domain":[0,64100],"nice":false,"zero":false,"padding":0},"axis":null},
   "y":{"datum":202,"type":"quantitative","axis":null},"y2":{"datum":99}}},
 {"data":{"values":[{"pos":31749}]},"mark":{"type":"rule","color":"#c45a5a","strokeWidth":1},
  "encoding":{"x":{"field":"pos","type":"quantitative","scale":{"domain":[0,64100],"nice":false,"zero":false,"padding":0},"axis":null},
   "y":{"datum":100,"type":"quantitative","axis":null},"y2":{"datum":250}}},
 {"data":{"values":[{"start":7362,"end":7760},{"start":7760,"end":8159}]},"mark":{"type":"rect","filled":false,"color":"#222222","strokeWidth":1},
  "encoding":{"x":{"field":"start","type":"quantitative","scale":{"domain":[0,64100],"nice":false,"zero":false,"padding":0},"axis":null},"x2":{"field":"end"},
   "y":{"datum":208.6,"type":"quantitative","axis":null},"y2":{"datum":-6.25}}},
 {"data":{"values":[{"name":"Pseudomonas phage R18"}]},"mark":{"type":"text","align":"left","baseline":"middle","font":"Liberation Sans","fontSize":12.5,"fontWeight":"bold","color":"#4a5161"},
  "encoding":{"x":{"datum":0,"type":"quantitative","scale":{"domain":[0,64100],"nice":false,"zero":false,"padding":0},"axis":null},
   "y":{"datum":-86.7,"type":"quantitative","axis":null},"text":{"field":"name","type":"nominal"}}}
]},
{"layer":[
 {"data":{"values":[{"start":0,"end":63530,"strand":"+"}]},"mark":{"type":"rule","color":"#777777","strokeWidth":1},
  "encoding":{"x":{"field":"start","type":"quantitative","scale":{"domain":[0,64100],"nice":false,"zero":false,"padding":0},"axis":null},"x2":{"field":"end"},
   "y":{"field":"strand","type":"nominal","scale":{"type":"band","domain":["+","-"],"range":[160.5,182],"paddingInner":0,"paddingOuter":0},"axis":null}}},
 {"data":{"name":"genes2"},"mark":{"type":"rect","fill":"white","stroke":"#1a1a1a","strokeWidth":1},
  "encoding":{"x":{"field":"start","type":"quantitative","scale":{"domain":[0,64100],"nice":false,"zero":false,"padding":0},"axis":null},"x2":{"field":"end"},
   "y":{"field":"strand","type":"nominal","scale":{"type":"band","domain":["+","-"],"range":[160.5,182],"paddingInner":0,"paddingOuter":0},"axis":null}}}
]}
]
}
]
}
